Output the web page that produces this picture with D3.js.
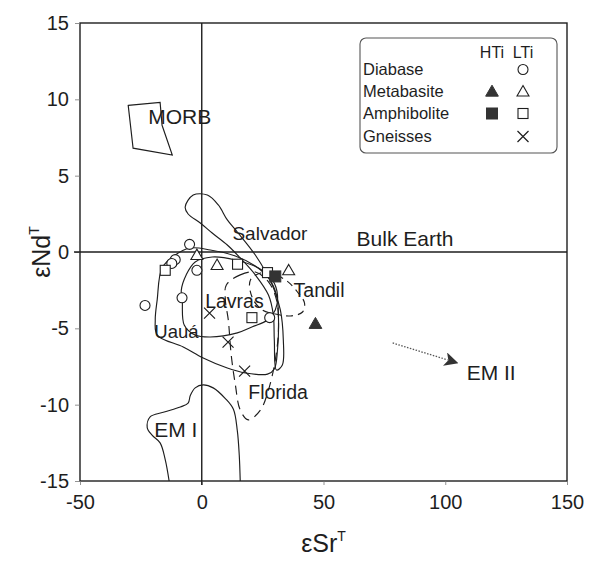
<!DOCTYPE html>
<html>
<head>
<meta charset="utf-8">
<script src="https://cdn.jsdelivr.net/npm/d3@7/dist/d3.min.js"></script>
<style>
  body { margin: 0; background: #fff; }
  text { font-family: "Liberation Sans", Arial, Helvetica, sans-serif; fill: #1e1e1e; }
</style>
</head>
<body>
<svg id="chart" width="591" height="564"></svg>
<script>
// Axis ticks
const xTicks = [-50, 0, 50, 100, 150];
const yTicks = [-15, -10, -5, 0, 5, 10, 15];

// Samples: [εSr, εNd]
const diabaseLTi = [[-5, 0.5], [-10.9, -0.5], [-12.3, -0.75], [-2, -1.2], [-23.3, -3.5], [-8.1, -3.0], [27.9, -4.3]];
const metabasiteLTi = [[-2, -0.2], [6.3, -0.85], [35.7, -1.2]];
const metabasiteHTi = [[46.7, -4.7]];
const amphiboliteLTi = [[-15, -1.2], [14.7, -0.8], [27, -1.35], [20.6, -4.3]];
const amphiboliteHTi = [[30.2, -1.6]];
const gneisses = [[3.2, -4.0], [10.8, -5.9], [17.6, -7.8]];

// Reference fields (closed outlines)
const morbField = [[-30.2, 9.6], [-17.1, 9.8], [-16.3, 8.3], [-12.1, 6.35], [-28.2, 6.8]];
const salvadorField = [[-6.8, 2.95], [-3.5, 3.73], [2.3, 3.73], [6.8, 3.08], [10.5, 2.1], [14.6, 1.31], [22.0, -0.2],
  [29.0, -2.16], [32.3, -3.8], [33.5, -5.76], [33.1, -7.4], [30.7, -7.73], [29.8, -5.76], [29.4, -4.13],
  [27.4, -2.82], [22.0, -1.5], [15.8, -0.39], [10.5, 0.46], [4.3, 1.24], [-0.6, 1.9], [-5.6, 2.49]];
const uauaField = [[-16.3, -1.05], [-18.3, -3.14], [-19.1, -4.45], [-18.3, -5.44], [-7.6, -6.22], [0.6, -6.94],
  [10.5, -7.6], [17.9, -7.92], [27.0, -8.0], [29.8, -7.66], [31.1, -6.42], [31.5, -4.26], [30.7, -2.82],
  [27.4, -1.7], [22.0, -0.92], [13.8, -0.26], [3.5, 0.13], [-4.7, 0.26], [-10.9, -0.2]];
const lavrasField = [[-8.0, -3.14], [-7.2, -4.78], [-2.7, -5.44], [3.5, -5.57], [14.6, -5.3], [20.8, -4.9],
  [27.0, -4.45], [30.2, -3.8], [31.1, -2.82], [29.0, -1.83], [23.3, -1.05], [13.8, -0.52], [4.3, -0.33],
  [-2.7, -0.65], [-6.4, -1.5], [-8.4, -2.5]];
const tandilField = [[20.0, -1.83], [26.1, -1.31], [34.4, -1.83], [39.3, -2.62], [42.2, -3.34], [41.4, -3.93],
  [36.4, -4.19], [30.2, -4.06], [24.9, -3.8], [20.8, -3.01]];
const floridaField = [[10.1, -2.16], [15.8, -1.5], [22.0, -1.31], [27.4, -1.96], [30.7, -3.14], [31.5, -5.1],
  [30.2, -7.07], [27.4, -9.04], [24.1, -10.35], [19.1, -11.0], [15.8, -10.35], [13.8, -8.7], [12.1, -6.75],
  [10.9, -4.45], [9.7, -3.14]];
// EM I outline runs up from the lower edge of the plot and back down
const em1Field = [[-13.4, -15], [-15.0, -13.6], [-17.1, -12.5], [-20.4, -12.0], [-22.4, -11.5], [-21.2, -10.8],
  [-15.8, -10.5], [-8.8, -10.15], [-5.6, -9.9], [-4.7, -9.4], [-2.7, -8.9], [0.6, -8.7], [4.7, -8.9],
  [9.7, -9.6], [13.0, -10.3], [14.6, -11.7], [15.4, -13.3], [15.8, -15]];
// Trend toward EM II
const em2Arrow = [[78.4, -5.96], [101, -7.07]];

// Field labels: [text, εSr, εNd]
const fieldLabels = [
  ["MORB", -22, 8.4], ["Salvador", 12.6, 0.8], ["Bulk Earth", 63.6, 0.4], ["Tandil", 37.7, -2.95],
  ["Lavras", 1.4, -3.67], ["Uauá", -19.5, -5.63], ["Florida", 19.1, -9.6], ["EM I", -19.5, -12.1],
  ["EM II", 108.8, -8.4]
];
const labelSize = { "MORB": 21, "Salvador": 19, "Bulk Earth": 21, "Tandil": 19.5, "Lavras": 19.5,
  "Uauá": 18.5, "Florida": 19.5, "EM I": 21, "EM II": 21 };

// Legend rows
const legendRows = ["Diabase", "Metabasite", "Amphibolite", "Gneisses"];
const legendCols = ["HTi", "LTi"];

const svg = d3.select("#chart");
const ink = "#1e1e1e";

const x = d3.scaleLinear().domain([-50, 150]).range([80, 567]);
const y = d3.scaleLinear().domain([-15, 15]).range([481, 23]);

// Frame
svg.append("rect")
  .attr("x", x(-50)).attr("y", y(15))
  .attr("width", x(150) - x(-50)).attr("height", y(-15) - y(15))
  .attr("fill", "none").attr("stroke", ink).attr("stroke-width", 1.4);

// Axes
const plainNum = d => String(d);
const yAxis = svg.append("g")
  .attr("transform", `translate(${x(-50)},0)`)
  .call(d3.axisLeft(y).tickValues(yTicks).tickSize(5).tickPadding(6).tickFormat(plainNum));
yAxis.select(".domain").remove();
yAxis.selectAll("line").attr("stroke", "#777").attr("stroke-width", 0.8);
yAxis.selectAll("text").attr("font-size", 20).attr("fill", ink)
  .style("font-family", "'Liberation Sans', Arial, sans-serif");

const xAxis = svg.append("g")
  .attr("transform", `translate(0,${y(-15)})`)
  .call(d3.axisBottom(x).tickValues(xTicks).tickSize(4).tickPadding(10).tickFormat(plainNum));
xAxis.select(".domain").remove();
xAxis.selectAll("line").attr("stroke", "#777").attr("stroke-width", 0.8);
xAxis.selectAll("text").attr("font-size", 20).attr("fill", ink)
  .style("font-family", "'Liberation Sans', Arial, sans-serif");

// Reference lines: εSr = 0 and εNd = 0 (Bulk Earth)
svg.append("line")
  .attr("x1", x(0)).attr("x2", x(0)).attr("y1", y(15)).attr("y2", y(-15) + 4)
  .attr("stroke", ink).attr("stroke-width", 1.4);
svg.append("line")
  .attr("x1", x(-50) - 6).attr("x2", x(150)).attr("y1", y(0)).attr("y2", y(0))
  .attr("stroke", ink).attr("stroke-width", 1.3);

// Axis titles
const xTitle = svg.append("text")
  .attr("x", x(50)).attr("y", 552).attr("text-anchor", "middle").attr("font-size", 25);
xTitle.append("tspan").text("εSr");
xTitle.append("tspan").attr("dy", -11).attr("font-size", 14).text("T");

const yTitle = svg.append("text")
  .attr("transform", `translate(50,${y(0)}) rotate(-90)`)
  .attr("text-anchor", "middle").attr("font-size", 25);
yTitle.append("tspan").text("εNd");
yTitle.append("tspan").attr("dy", -11).attr("font-size", 14).text("T");

// Fields
const closedPath = d3.line().x(d => x(d[0])).y(d => y(d[1])).curve(d3.curveCatmullRomClosed.alpha(0.5));
const openPath = d3.line().x(d => x(d[0])).y(d => y(d[1])).curve(d3.curveCatmullRom.alpha(0.5));
const sharpPath = d3.line().x(d => x(d[0])).y(d => y(d[1])).curve(d3.curveLinearClosed);

const fields = svg.append("g").attr("fill", "none").attr("stroke", ink).attr("stroke-width", 1.15);
fields.append("path").attr("d", sharpPath(morbField));
fields.append("path").attr("d", closedPath(salvadorField));
fields.append("path").attr("d", closedPath(uauaField));
fields.append("path").attr("d", closedPath(lavrasField));
fields.append("path").attr("d", closedPath(tandilField)).attr("stroke-dasharray", "7,5");
fields.append("path").attr("d", closedPath(floridaField)).attr("stroke-dasharray", "9,6");
fields.append("path").attr("d", openPath(em1Field));

// EM II trend arrow
svg.append("defs").append("marker")
  .attr("id", "arrowhead").attr("viewBox", "0 0 10 10").attr("refX", 2).attr("refY", 5)
  .attr("markerWidth", 14).attr("markerHeight", 14).attr("markerUnits", "userSpaceOnUse")
  .attr("orient", "auto")
  .append("path").attr("d", "M0,0 L10,5 L0,10 L2.5,5 Z").attr("fill", "#333");
svg.append("line")
  .attr("x1", x(em2Arrow[0][0])).attr("y1", y(em2Arrow[0][1]))
  .attr("x2", x(em2Arrow[1][0])).attr("y2", y(em2Arrow[1][1]))
  .attr("stroke", "#555").attr("stroke-width", 1.3).attr("stroke-dasharray", "1.5,1.5")
  .attr("marker-end", "url(#arrowhead)");

// Field labels
svg.append("g").selectAll("text").data(fieldLabels).join("text")
  .attr("x", d => x(d[1])).attr("y", d => y(d[2]))
  .attr("font-size", d => labelSize[d[0]])
  .text(d => d[0]);

// Symbols
const sym = {
  circle: (g, d) => g.append("circle").attr("cx", x(d[0])).attr("cy", y(d[1])).attr("r", 5)
    .attr("fill", "#fff").attr("stroke", ink).attr("stroke-width", 1.1),
  triOpen: (g, d) => g.append("path").attr("d", d3.symbol(d3.symbolTriangle, 62)())
    .attr("transform", `translate(${x(d[0])},${y(d[1]) + 1})`)
    .attr("fill", "#fff").attr("stroke", ink).attr("stroke-width", 1.1),
  triFill: (g, d) => g.append("path").attr("d", d3.symbol(d3.symbolTriangle, 70)())
    .attr("transform", `translate(${x(d[0])},${y(d[1]) + 1})`)
    .attr("fill", "#333").attr("stroke", "#333").attr("stroke-width", 1),
  sqOpen: (g, d) => g.append("rect").attr("x", x(d[0]) - 5).attr("y", y(d[1]) - 5)
    .attr("width", 10).attr("height", 10)
    .attr("fill", "#fff").attr("stroke", ink).attr("stroke-width", 1.1),
  sqFill: (g, d) => g.append("rect").attr("x", x(d[0]) - 5.5).attr("y", y(d[1]) - 5.5)
    .attr("width", 11).attr("height", 11)
    .attr("fill", "#333").attr("stroke", "#333").attr("stroke-width", 1),
  cross: (g, d) => g.append("path")
    .attr("d", `M${x(d[0]) - 5.5},${y(d[1]) - 5.5}L${x(d[0]) + 5.5},${y(d[1]) + 5.5}M${x(d[0]) - 5.5},${y(d[1]) + 5.5}L${x(d[0]) + 5.5},${y(d[1]) - 5.5}`)
    .attr("stroke", ink).attr("stroke-width", 1.2).attr("fill", "none")
};

const pts = svg.append("g");
diabaseLTi.forEach(d => sym.circle(pts, d));
metabasiteLTi.forEach(d => sym.triOpen(pts, d));
amphiboliteLTi.forEach(d => sym.sqOpen(pts, d));
amphiboliteHTi.forEach(d => sym.sqFill(pts, d));
metabasiteHTi.forEach(d => sym.triFill(pts, d));
gneisses.forEach(d => sym.cross(pts, d));

// Legend
const lg = svg.append("g");
lg.append("rect").attr("x", 360).attr("y", 38).attr("width", 197).attr("height", 115)
  .attr("rx", 6).attr("fill", "#fff").attr("stroke", "#555").attr("stroke-width", 1.1);
const colX = [492, 523];
lg.selectAll("text.col").data(legendCols).join("text").attr("class", "col")
  .attr("x", (d, i) => colX[i]).attr("y", 58).attr("text-anchor", "middle").attr("font-size", 16).text(d => d);
const rowY = [75, 97, 119, 142];
lg.selectAll("text.row").data(legendRows).join("text").attr("class", "row")
  .attr("x", 363).attr("y", (d, i) => rowY[i]).attr("font-size", 16.5).text(d => d);
const legendSym = (i) => rowY[i] - 5.5;
const inv = (px, py) => [x.invert(px), y.invert(py)];
sym.circle(lg, inv(colX[1], legendSym(0)));
sym.triFill(lg, inv(colX[0], legendSym(1)));
sym.triOpen(lg, inv(colX[1], legendSym(1)));
sym.sqFill(lg, inv(colX[0], legendSym(2)));
sym.sqOpen(lg, inv(colX[1], legendSym(2)));
sym.cross(lg, inv(colX[1], legendSym(3)));
</script>
</body>
</html>
